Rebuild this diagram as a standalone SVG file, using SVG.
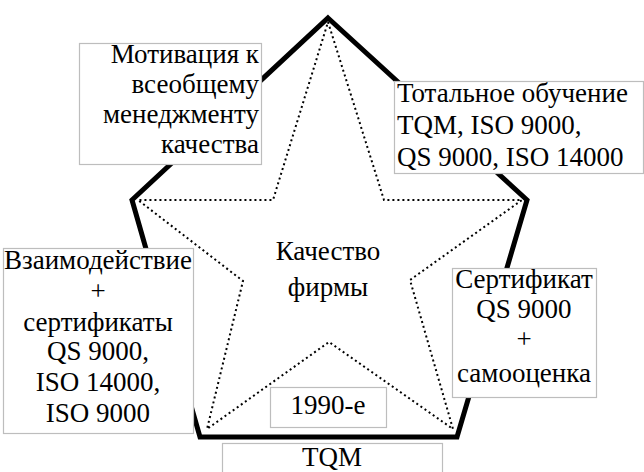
<svg xmlns="http://www.w3.org/2000/svg" width="644" height="472" viewBox="0 0 644 472" font-family="'Liberation Serif', serif">
<rect width="644" height="472" fill="#fff"/>
<g id="connectors">
<polygon fill="none" stroke="#000" stroke-width="5" points="328,18 527,200 457,437 200,437 132,200"/>
<polygon fill="none" stroke="#000" stroke-width="2" stroke-dasharray="2 3" points="328,22 384,200 522,200 410,280 453,429 329,342 207,429 243,281 138,200 273,200"/>
</g>
<g id="center">
<text x="328" y="260" font-size="27" style="font-family:'Liberation Serif', serif" text-anchor="middle">Качество</text>
<text x="328" y="296" font-size="27" style="font-family:'Liberation Serif', serif" text-anchor="middle">фирмы</text>
</g>
<g id="motivation">
<rect fill="#fff" stroke="#bdbdbd" stroke-width="1.2" x="79.5" y="43.5" width="182" height="121"/>
<text x="259" y="63" font-size="27" style="font-family:'Liberation Serif', serif" text-anchor="end">Мотивация к</text>
<text x="259" y="93" font-size="27" style="font-family:'Liberation Serif', serif" text-anchor="end">всеобщему</text>
<text x="259" y="123" font-size="27" style="font-family:'Liberation Serif', serif" text-anchor="end">менеджменту</text>
<text x="259" y="153" font-size="27" style="font-family:'Liberation Serif', serif" text-anchor="end">качества</text>
</g>
<g id="training">
<rect fill="#fff" stroke="#bdbdbd" stroke-width="1.2" x="394.5" y="81.5" width="249" height="92"/>
<text x="397" y="102" font-size="27" style="font-family:'Liberation Serif', serif">Тотальное обучение</text>
<text x="397" y="134" font-size="27" style="font-family:'Liberation Serif', serif">TQM, ISO 9000,</text>
<text x="397" y="166" font-size="27" style="font-family:'Liberation Serif', serif">QS 9000, ISO 14000</text>
</g>
<g id="interaction">
<rect fill="#fff" stroke="#bdbdbd" stroke-width="1.2" x="3.5" y="248.5" width="190" height="185"/>
<text x="98" y="269" font-size="27" style="font-family:'Liberation Serif', serif" text-anchor="middle">Взаимодействие</text>
<text x="98" y="300" font-size="27" style="font-family:'Liberation Serif', serif" text-anchor="middle">+</text>
<text x="98" y="331" font-size="27" style="font-family:'Liberation Serif', serif" text-anchor="middle">сертификаты</text>
<text x="98" y="360" font-size="27" style="font-family:'Liberation Serif', serif" text-anchor="middle">QS 9000,</text>
<text x="98" y="391" font-size="27" style="font-family:'Liberation Serif', serif" text-anchor="middle">ISO 14000,</text>
<text x="98" y="422" font-size="27" style="font-family:'Liberation Serif', serif" text-anchor="middle">ISO 9000</text>
</g>
<g id="certificate">
<rect fill="#fff" stroke="#bdbdbd" stroke-width="1.2" x="452.5" y="268.5" width="144" height="129"/>
<text x="524" y="288" font-size="27" style="font-family:'Liberation Serif', serif" text-anchor="middle">Сертификат</text>
<text x="524" y="318" font-size="27" style="font-family:'Liberation Serif', serif" text-anchor="middle">QS 9000</text>
<text x="524" y="348" font-size="27" style="font-family:'Liberation Serif', serif" text-anchor="middle">+</text>
<text x="524" y="382" font-size="27" style="font-family:'Liberation Serif', serif" text-anchor="middle">самооценка</text>
</g>
<g id="decade">
<rect fill="#fff" stroke="#bdbdbd" stroke-width="1.2" x="270.5" y="387.5" width="116" height="40"/>
<text x="328" y="414" font-size="27" style="font-family:'Liberation Serif', serif" text-anchor="middle">1990-е</text>
</g>
<g id="tqm">
<rect fill="#fff" stroke="#bdbdbd" stroke-width="1.2" x="222.5" y="443.5" width="220" height="40"/>
<text x="332" y="466" font-size="27" style="font-family:'Liberation Serif', serif" text-anchor="middle">TQM</text>
</g>
</svg>
